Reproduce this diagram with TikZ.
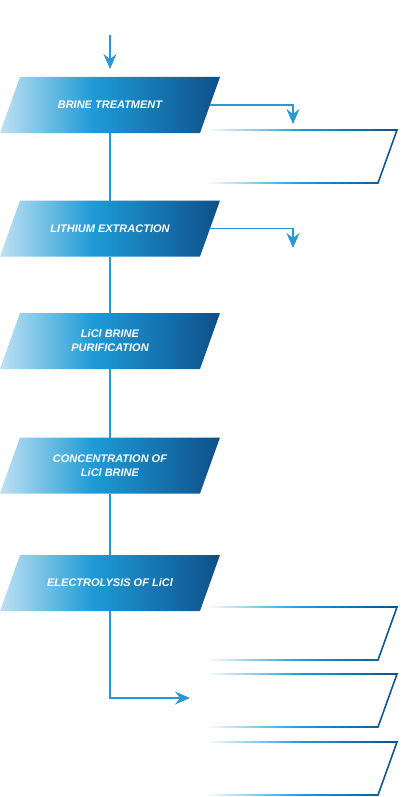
\documentclass[tikz,border=0pt]{standalone}
\usepackage{fontspec}
\setsansfont{Liberation Sans}
\usetikzlibrary{arrows.meta}
\definecolor{boxlight}{HTML}{BEE1F3}
\definecolor{boxmid}{HTML}{1F9BD7}
\definecolor{boxdark}{HTML}{0E4F8A}
\definecolor{flowblue}{HTML}{2A98D5}
\pgfdeclarehorizontalshading{stageshade}{100bp}{color(0bp)=(boxlight); color(25bp)=(boxlight);
  color(46bp)=(boxmid); color(75bp)=(boxdark); color(100bp)=(boxdark)}
\pgfdeclarehorizontalshading{rimshade}{100bp}{color(0bp)=(white); color(25bp)=(white);
  color(50bp)=(boxmid); color(75bp)=(boxdark); color(100bp)=(boxdark)}
\tikzset{
  stage/.style={minimum width=200pt, minimum height=56pt, inner sep=0pt, outer sep=0pt,
    text=white, align=center, font=\sffamily\bfseries\itshape\fontsize{11}{14}\selectfont},
  stagefill/.style={shading=stageshade},
  link/.style={draw=flowblue, line width=1.3pt},
  flow/.style={link, -{Stealth[length=15pt,width=13pt,inset=5pt]}},
  spot/.style={minimum width=193pt, minimum height=53pt, inner sep=0pt, outer sep=0pt},
  rim/.style={even odd rule, shading=rimshade}
}
% shaded parallelogram with its node: name, centre y, text
\newcommand\stagebox[3]{%
  \shade[stagefill] (0,{#2+28}) -- (20,{#2-28}) -- (220,{#2-28}) -- (200,{#2+28}) -- cycle;
  \node[stage] (#1) at (110,#2) {#3};
}
% empty outlined box: name, top y
\newcommand\emptybox[2]{%
  \node[spot] (#1) at (301.5,{#2+26.5}) {};
  \shade[rim] (205,{#2-0.8}) -- (398.1,{#2-0.8}) -- (378.6,{#2+53.8}) -- (205,{#2+53.8}) -- cycle
    (205,{#2+0.8}) -- (395.9,{#2+0.8}) -- (377.4,{#2+52.2}) -- (205,{#2+52.2}) -- cycle;
}
\begin{document}
\begin{tikzpicture}[x=1pt,y=-1pt]
\useasboundingbox (0,0) rectangle (400,797);
% process stages
\stagebox{b1}{105}{BRINE TREATMENT}
\stagebox{b2}{228.5}{LITHIUM EXTRACTION}
\stagebox{b3}{341}{LiCl BRINE\\PURIFICATION}
\stagebox{b4}{465.5}{CONCENTRATION OF\\LiCl BRINE}
\stagebox{b5}{583}{ELECTROLYSIS OF LiCl}
% side boxes
\emptybox{o1}{130}
\emptybox{o2}{607}
\emptybox{o3}{674}
\emptybox{o4}{742}
\coordinate (in) at (110,35);
\coordinate (t1) at (293,124);
\coordinate (t2) at (293,248);
\coordinate (t5) at (190,698);
% connectors
\draw[flow,shorten >=8pt] (in) -- (b1.north);
\draw[link] (b1.south) -- (b2.north);
\draw[link] (b2.south) -- (b3.north);
\draw[link] (b3.south) -- (b4.north);
\draw[link] (b4.south) -- (b5.north);
\draw[flow] (b1.east) -| (t1);
\draw[flow] (b2.east) -| (t2);
\draw[flow] (b5.south) |- (t5);
\end{tikzpicture}
\end{document}
